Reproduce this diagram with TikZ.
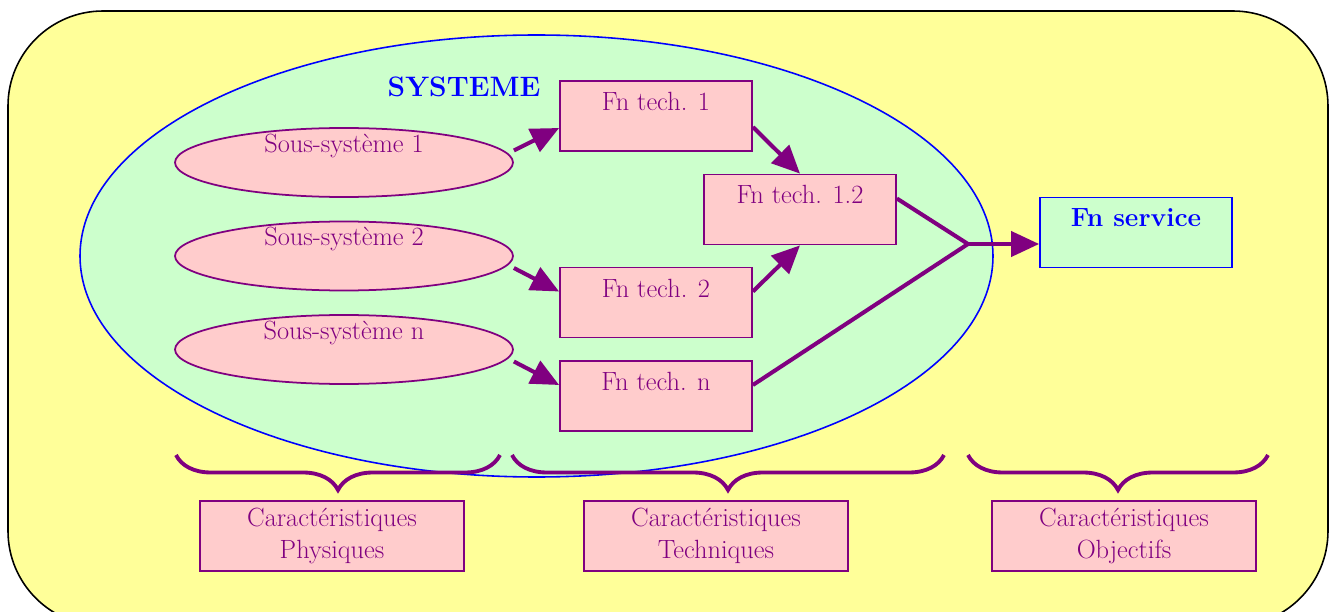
\documentclass[tikz,border=0pt]{standalone}
\usepackage{amsmath,amssymb}
\usepackage{xcolor}
\usetikzlibrary{arrows.meta,shapes.geometric,decorations.pathreplacing,calc,positioning}
\definecolor{jaune}{HTML}{FFFF99}
\definecolor{vertclair}{HTML}{CCFFCC}
\definecolor{rose}{HTML}{FFCCCC}
\definecolor{pourpre}{HTML}{800080}

\begin{document}
\begin{tikzpicture}[node distance=1.87cm]
\tikzstyle{ss}=[ellipse, minimum width=6.76cm, minimum height=1.38cm, inner sep=0pt, draw=pourpre, line width=1pt, fill=rose, text=pourpre, font=\fontsize{15}{18}\selectfont, text height=0.2cm, text depth=0.6cm]
\tikzstyle{fn}=[rectangle, minimum width=3.84cm, minimum height=1.4cm, inner sep=0pt, draw=pourpre, line width=1pt, fill=rose, text=pourpre, font=\fontsize{15}{18}\selectfont, text height=0.4cm, text depth=0.62cm]
\tikzstyle{fsv}=[fn, draw=blue, fill=vertclair, text=blue, font=\bfseries\fontsize{15}{18}\selectfont]
\tikzstyle{car}=[rectangle, minimum width=5.28cm, minimum height=1.4cm, draw=pourpre, line width=1pt, fill=rose, text=pourpre, align=center, font=\fontsize{15}{18}\selectfont]
\tikzstyle{fl}=[-{Triangle[length=0.56cm,width=0.5cm]}, line width=2.3pt, draw=pourpre]
\tikzstyle{acc}=[decorate, decoration={brace, amplitude=0.7cm, mirror}, line width=2.2pt, draw=pourpre]
\useasboundingbox (0,0) rectangle (26.6,-12.24);
\draw[fill=jaune, line width=0.9pt, rounded corners=1.9cm] (0.16,-0.22) rectangle (26.56,-12.52);

\node (sys) [ellipse, draw=blue, fill=vertclair, line width=0.9pt, minimum width=18.26cm, minimum height=8.84cm] at (10.73,-5.12) {};
\node (titre) at (9.28,-1.74) [text=blue, font=\bfseries\fontsize{16}{19}\selectfont] {SYSTEME};

\node (ss1) [ss] at (6.88,-3.25) {Sous-système 1};
\node (ss2) [ss, below of=ss1] {Sous-système 2};
\node (ssn) [ss, below of=ss2] {Sous-système n};

\node (ft1) [fn] at (13.12,-2.32) {Fn tech. 1};
\node (ft12) [fn] at (16.0,-4.19) {Fn tech. 1.2};
\node (ft2) [fn, below of=ft1, yshift=-1.86cm] {Fn tech. 2};
\node (ftn) [fn, below of=ft2] {Fn tech. n};
\node (fs) [fsv] at (22.72,-4.65) {Fn service};

\node (car1) [car] at (6.64,-10.72) {Caractéristiques\\Physiques};
\node (car2) [car] at (14.32,-10.72) {Caractéristiques\\Techniques};
\node (car3) [car] at (22.48,-10.72) {Caractéristiques\\Objectifs};

\draw[fl] ($(ss1.east)+(0,0.24)$) -- ($(ft1.west)+(0,-0.24)$);
\draw[fl] ($(ss2.east)+(0,-0.24)$) -- ($(ft2.west)+(0,0.22)$);
\draw[fl] ($(ssn.east)+(0,-0.24)$) -- ($(ftn.west)+(0,0.22)$);
\draw[fl] ($(ft1.east)+(0,-0.22)$) -- (ft12.north);
\draw[fl] ($(ft2.east)+(0,0.22)$) -- (ft12.south);
\coordinate (jonc) at (19.36,-4.88);
\draw[line width=2.3pt, pourpre] ($(ft12.east)+(0,0.22)$) -- (jonc) -- ($(ftn.east)+(0,0.22)$);
\draw[fl] (jonc) -- (jonc -| fs.west);

\draw[acc] (3.52,-9.1) -- (10.0,-9.1);
\draw[acc] (10.24,-9.1) -- (18.88,-9.1);
\draw[acc] (19.36,-9.1) -- (25.36,-9.1);
\end{tikzpicture}
\end{document}
